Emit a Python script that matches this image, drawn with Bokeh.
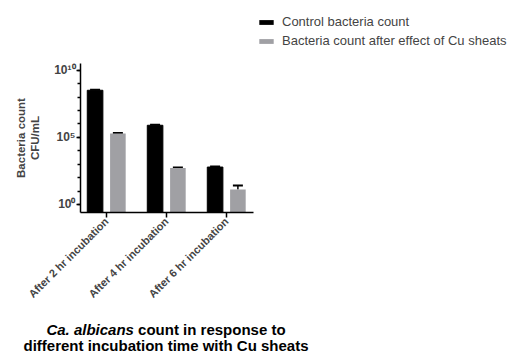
import math
from bokeh.plotting import figure
from bokeh.layouts import column, row
from bokeh.models import (ColumnDataSource, FixedTicker, Range1d, Whisker, Legend,
                          LegendItem, Div, Spacer)
from bokeh.embed import file_html
from bokeh.resources import INLINE

# ---- data ----
categories = ["After 2 hr incubation", "After 4 hr incubation", "After 6 hr incubation"]
control_counts = [3.2e8, 7.9e5, 6.1e2]
control_upper = [3.5e8, 8.7e5, 6.8e2]
cu_counts = [1.9e5, 5.1e2, 13]
cu_upper = [2.1e5, 5.6e2, 26]
series_names = ["Control bacteria count", "Bacteria count after effect of Cu sheats"]
series_colors = ["black", "#a0a0a4"]
major_ticks = [1, 1e5, 1e10]
major_labels = ["10\u2070", "10\u2075", "10\u00b9\u2070"]
title_italic = "Ca. albicans"
title_rest = "count in response to"
title_line2 = "different incubation time with Cu sheats"

FONT = "Liberation Sans"
Y_START, Y_END = 10 ** -0.6, 10 ** 10.5

xpos = list(range(len(categories)))
off = 0.19
width = 0.26

# ---------------- main chart ----------------
p = figure(width=521, height=272, output_backend="svg", toolbar_location=None,
           y_axis_type="log", x_range=Range1d(-0.433, 2.45),
           y_range=Range1d(Y_START, Y_END),
           min_border_left=80, min_border_right=268, min_border_top=13,
           min_border_bottom=110)
p.outline_line_color = None
p.xgrid.visible = False
p.ygrid.visible = False

src_c = ColumnDataSource(dict(x=[v - off for v in xpos], top=control_counts,
                              upper=control_upper))
src_u = ColumnDataSource(dict(x=[v + off for v in xpos], top=cu_counts,
                              upper=cu_upper))

p.vbar(x="x", top="top", bottom=Y_START, width=width, source=src_c,
       fill_color=series_colors[0], line_color="black", line_width=1)
p.vbar(x="x", top="top", bottom=Y_START, width=width, source=src_u,
       fill_color=series_colors[1], line_color=None)

for src in (src_c, src_u):
    w = Whisker(base="x", upper="upper", lower="top", source=src,
                line_color="black", line_width=1.5)
    w.upper_head.size = 10
    w.upper_head.line_width = 2
    w.upper_head.line_color = "black"
    w.lower_head.size = 0
    w.lower_head.line_alpha = 0
    p.add_layout(w)

yax = p.yaxis[0]
yax.ticker = FixedTicker(ticks=major_ticks,
                         minor_ticks=[10.0 ** k for k in range(-1, 12)])
yax.major_label_overrides = {t: l for t, l in zip(major_ticks, major_labels)}
yax.major_label_text_font = FONT
yax.major_label_text_font_style = "bold"
yax.major_label_text_font_size = "12px"
yax.major_label_standoff = 1
yax.major_tick_out = 4
yax.major_tick_in = 0
yax.minor_tick_out = 3
yax.minor_tick_in = 0
yax.axis_line_width = 1.5
yax.major_tick_line_width = 1.5
yax.minor_tick_line_width = 1.5
yax.axis_label = "Bacteria count\nCFU/mL"
yax.axis_label_text_font = FONT
yax.axis_label_text_font_style = "bold"
yax.axis_label_text_font_size = "11.5px"
yax.axis_label_standoff = 10

xax = p.xaxis[0]
xax.ticker = FixedTicker(ticks=xpos, minor_ticks=[])
xax.major_label_overrides = {i: c for i, c in enumerate(categories)}
xax.major_label_orientation = math.pi / 4
xax.major_label_text_font = FONT
xax.major_label_text_font_style = "bold"
xax.major_label_text_font_size = "11px"
xax.major_tick_out = 5
xax.major_tick_in = 0
xax.minor_tick_line_color = None
xax.axis_line_width = 1.5
xax.major_tick_line_width = 1.5
xax.major_label_standoff = 2

# ---------------- legend (separate small figure) ----------------
lf = figure(width=264, height=50, output_backend="svg", toolbar_location=None,
            x_range=Range1d(0, 1), y_range=Range1d(0, 1), min_border=0)
lf.axis.visible = False
lf.grid.visible = False
lf.outline_line_color = None
# zero-height proxy bars, used only to carry the legend swatch styles
lr1 = lf.vbar(x=[0], top=[0], bottom=[0], width=0.0, fill_color=series_colors[0],
              line_color=None)
lr2 = lf.vbar(x=[0], top=[0], bottom=[0], width=0.0, fill_color=series_colors[1],
              line_color=None)
legend = Legend(items=[LegendItem(label=series_names[0], renderers=[lr1]),
                       LegendItem(label=series_names[1], renderers=[lr2])],
                location=(0, 2), orientation="vertical")
legend.glyph_width = 18
legend.glyph_height = 6
legend.label_standoff = 7
legend.label_text_font = FONT
legend.label_text_font_size = "13px"
legend.label_height = 13
legend.spacing = 4
legend.padding = 0
legend.margin = 0
legend.border_line_color = None
legend.background_fill_alpha = 0
lf.add_layout(legend, "center")

title = Div(text=f"<i>{title_italic}</i> {title_rest}<br>{title_line2}",
            width=332, height=34, margin=(0, 0, 0, 0),
            styles={"font-family": FONT, "font-weight": "bold", "font-size": "15px",
                    "line-height": "16px", "text-align": "center", "color": "black"})

layout = column(row(Spacer(width=257, height=50), lf, spacing=0), p, title, spacing=0)
open("out.html", "w").write(file_html(layout, INLINE))
